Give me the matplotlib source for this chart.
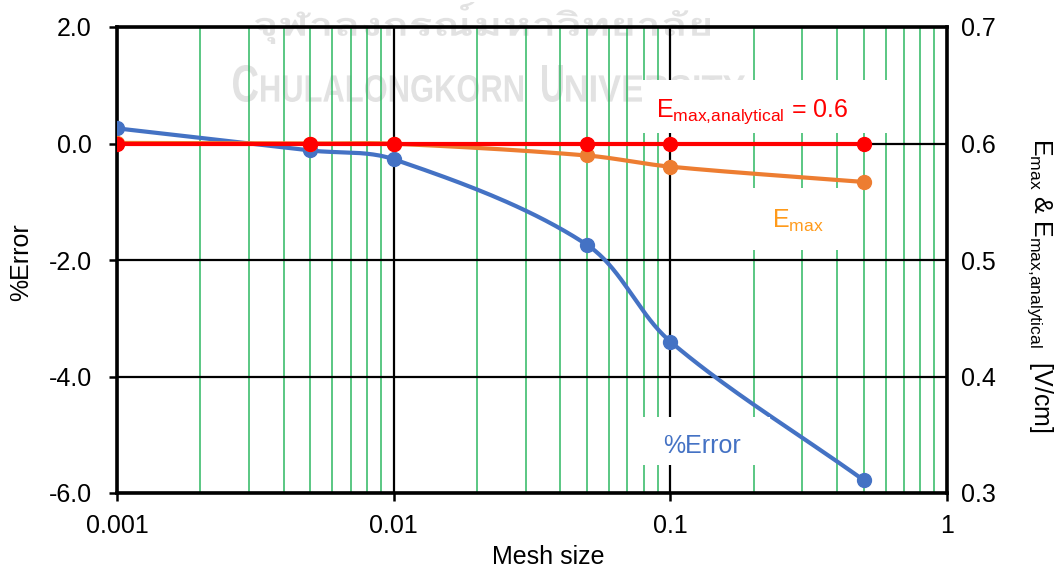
import matplotlib
matplotlib.use('Agg')
import matplotlib.pyplot as plt
import numpy as np
from matplotlib import font_manager, ticker
from matplotlib.patches import PathPatch, Rectangle
from matplotlib.textpath import TextPath
from matplotlib.transforms import Affine2D

# mesh convergence of the peak field
mesh_size = [0.001, 0.005, 0.01, 0.05, 0.1, 0.5]
error_pct = [0.26, -0.12, -0.27, -1.74, -3.40, -5.78]
e_max = [0.6005, 0.6000, 0.5998, 0.5897, 0.5801, 0.5670]
e_max_analytical = [0.6, 0.6, 0.6, 0.6, 0.6, 0.6]

x_ticks = [0.001, 0.01, 0.1, 1]
err_ticks = [-6.0, -4.0, -2.0, 0.0, 2.0]
e_ticks = [0.3, 0.4, 0.5, 0.6, 0.7]

BLUE = '#4472C4'
ORANGE = '#ED7D31'
LABEL_ORANGE = '#FF9A1A'
RED = '#FF0000'
GREEN = '#2DB862'
WATERMARK = '#E2E2E2'

plt.rcParams.update({
    'font.family': ['Liberation Sans', 'DejaVu Sans'],
    'font.size': 18,
    'mathtext.fontset': 'custom',
    'mathtext.rm': 'Liberation Sans',
    'mathtext.it': 'Liberation Sans:italic',
    'mathtext.bf': 'Liberation Sans:bold',
    'axes.unicode_minus': False,
})


def find_family(char):
    """First installed family that has a glyph for `char`."""
    for f in font_manager.fontManager.ttflist:
        try:
            if ord(char) in font_manager.get_font(f.fname).get_charmap():
                return f.name
        except Exception:
            pass
    return None


def smooth(ax, x, y, n=40):
    """Excel-style smoothed line: Bezier segments in screen space, with
    the tangent handles scaled by the neighbouring segment lengths."""
    pts = ax.transData.transform(np.column_stack([x, y]))
    p = np.vstack([pts[0], pts, pts[-1]])
    t = np.linspace(0, 1, n)[:, None]
    segs = []
    for i in range(1, len(p) - 2):
        p0, p1, p2, p3 = p[i - 1], p[i], p[i + 1], p[i + 2]
        a, b, c = (np.hypot(*(p1 - p0)), np.hypot(*(p2 - p1)),
                   np.hypot(*(p3 - p2)))
        c1 = p1 + (p2 - p0) * b / (a + b) / 3
        c2 = p2 - (p3 - p1) * b / (b + c) / 3
        segs.append((1 - t) ** 3 * p1 + 3 * (1 - t) ** 2 * t * c1
                    + 3 * (1 - t) * t ** 2 * c2 + t ** 3 * p2)
    curve = ax.transData.inverted().transform(np.vstack(segs))
    return curve[:, 0], curve[:, 1]


def fitted_text(ax, s, box, family, weight='bold'):
    """Draw `s` squeezed into the pixel box (left, top, right, bottom)."""
    path = TextPath((0, 0), s, size=40,
                    prop=font_manager.FontProperties(family=family,
                                                     weight=weight))
    ext = path.get_extents()
    left, top, right, bottom = box
    tr = (Affine2D().translate(-ext.x0, -ext.y0)
          .scale((right - left) / ext.width, (bottom - top) / ext.height)
          .translate(left, 570 - bottom))
    ax.add_artist(PathPatch(tr.transform_path(path), facecolor=WATERMARK,
                            edgecolor='none', transform=None, zorder=0.2,
                            clip_on=False))


fig = plt.figure(figsize=(10.64, 5.70), dpi=100)
ax = fig.add_axes([117 / 1064, 1 - 493 / 570, 830 / 1064, 466 / 570])
ax.set_xscale('log')
ax.set_xlim(0.001, 1)
ax.set_ylim(-6, 2)
ax2 = ax.twinx()
ax2.set_ylim(0.3, 0.7)

# grid: black at decades and y ticks, green at the minor decades
ax.set_axisbelow(True)
ax.set_xticks(x_ticks)
ax.xaxis.set_major_formatter(ticker.FuncFormatter(lambda v, _: '%g' % v))
ax.xaxis.set_minor_locator(ticker.LogLocator(base=10, subs=np.arange(2, 10)))
ax.xaxis.set_minor_formatter(ticker.NullFormatter())
ax.set_yticks(err_ticks)
ax.yaxis.set_major_formatter(ticker.FormatStrFormatter('%.1f'))
ax.grid(True, which='major', color='black', lw=1.6)
ax.grid(True, which='minor', axis='x', color=GREEN, lw=1.1)
ax.tick_params(which='major', direction='out', length=6, width=1.8,
               labelsize=18)
ax.tick_params(axis='y', pad=12)
ax.tick_params(axis='x', pad=9)
ax.tick_params(which='minor', length=0)
for s in ax.spines.values():
    s.set_linewidth(2.6)
ax2.set_yticks(e_ticks)
ax2.yaxis.set_major_formatter(ticker.FormatStrFormatter('%.1f'))
ax2.tick_params(axis='y', length=0, pad=10, labelsize=18)
for s in ax2.spines.values():
    s.set_visible(False)

# watermark
thai = find_family('\u0e08')
if thai:
    fitted_text(ax, 'จุฬาลงกรณ์มหาวิทยาลัย', (255, 2, 710, 44), thai)
for piece, box in (('C', (233, 65, 258, 102)),
                   ('HULALONGKORN', (261, 75, 523, 102)),
                   ('U', (542, 65, 563, 102)),
                   ('NIVERSITY', (566, 75, 745, 102))):
    fitted_text(ax, piece, box, 'Liberation Sans')

# series
xs, ys = smooth(ax, mesh_size, error_pct)
ax.plot(xs, ys, color=BLUE, lw=3, solid_capstyle='round', zorder=3)
ax.plot(mesh_size, error_pct, 'o', color=BLUE, ms=10, zorder=3)
xs, ys = smooth(ax2, mesh_size, e_max)
ax2.plot(xs, ys, color=ORANGE, lw=3, zorder=3)
ax2.plot(mesh_size, e_max, 'o', color=ORANGE, ms=10, zorder=3)
ax2.plot(mesh_size, e_max_analytical, '-o', color=RED, lw=3, ms=10,
         zorder=4)

# text boxes
for (bx0, bx1, by0, by1) in ((642, 895, 133, 80), (740, 855, 250, 188),
                             (635, 770, 465, 417)):
    ax2.add_patch(Rectangle(((bx0 - 117) / 830, (493 - by0) / 466),
                            (bx1 - bx0) / 830, (by0 - by1) / 466,
                            transform=ax.transAxes, facecolor='white',
                            edgecolor='none', zorder=2))
ax2.text((752 - 117) / 830, (493 - 117) / 466,
         r'E$_{\mathrm{max{,}analytical}}$ = 0.6', transform=ax.transAxes,
         color=RED, fontsize=18, ha='center', va='baseline', zorder=5)
ax2.text((798 - 117) / 830, (493 - 228) / 466, r'E$_{\mathrm{max}}$',
         transform=ax.transAxes, color=LABEL_ORANGE, fontsize=18,
         ha='center', va='baseline', zorder=5)
ax2.text((702 - 117) / 830, (493 - 453) / 466, '%Error',
         transform=ax.transAxes, color=BLUE, fontsize=18, ha='center',
         va='baseline', zorder=5)

# axis titles
ax.set_xlabel('Mesh size', fontsize=18)
ax.xaxis.set_label_coords((548 - 117) / 830, (493 - 545) / 466)
ax.set_ylabel('%Error', fontsize=18)
ax.yaxis.set_label_coords((33 - 117) / 830, 0.496)
fig.text(1040 / 1064, 1 - 285 / 570,
         r'E$_{\mathrm{max}}$ & E$_{\mathrm{max{,}analytical}}$  [V/cm]',
         rotation=-90, fontsize=18, ha='center', va='center')

fig.savefig('out.png', dpi=100)
